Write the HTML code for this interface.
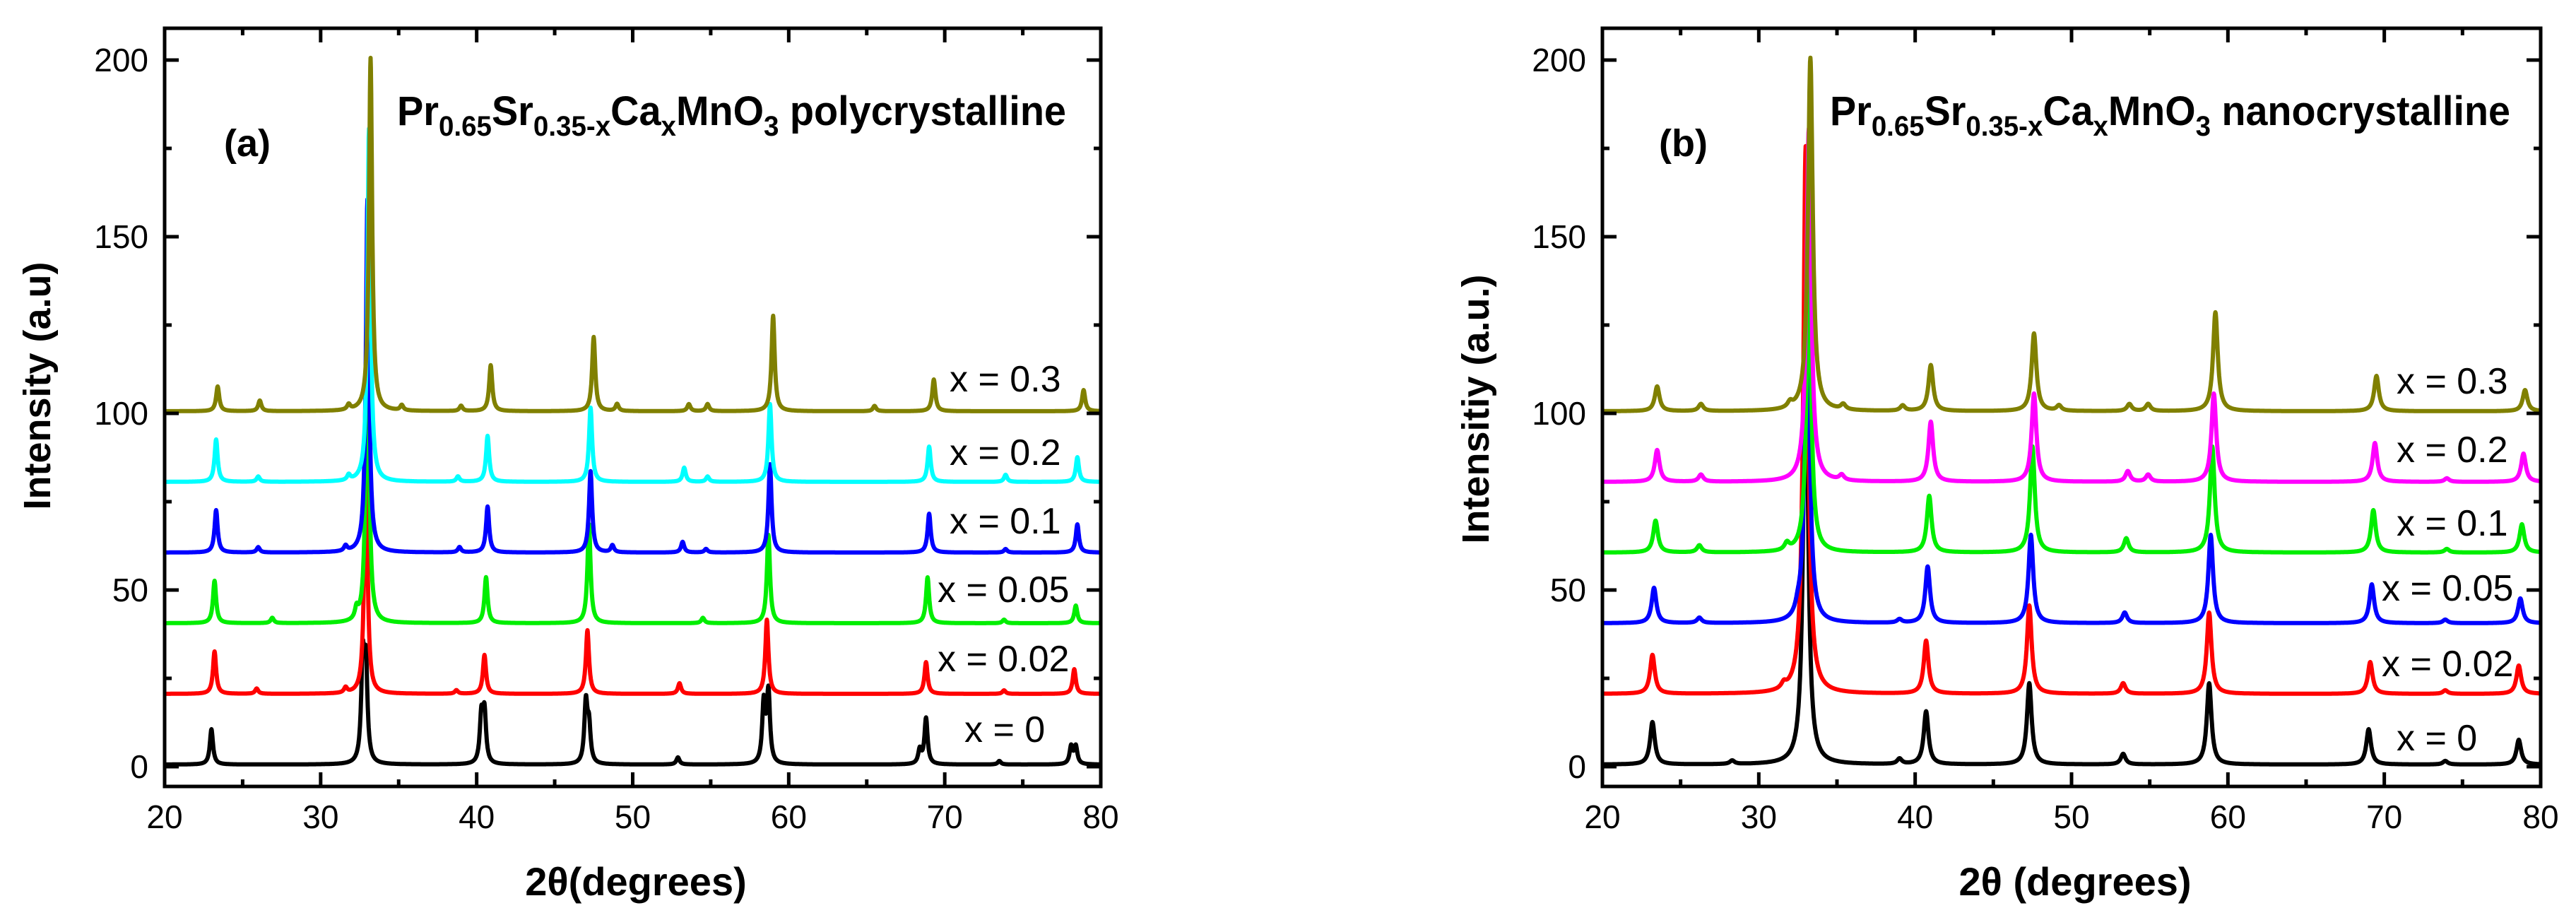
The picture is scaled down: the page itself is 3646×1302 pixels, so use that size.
<!DOCTYPE html>
<html><head><meta charset="utf-8"><style>
html,body{margin:0;padding:0;background:#fff;}
svg{display:block;font-family:"Liberation Sans",sans-serif;}
</style></head><body>
<svg id="fig" width="3646" height="1302" viewBox="0 0 3646 1302" xmlns="http://www.w3.org/2000/svg"></svg>
<script>
// ---- data (peak positions in 2θ, heights in a.u.) ----
const xTicks = [20,30,40,50,60,70,80];
const yTicks = [0,50,100,150,200];
const offsets = [0,20,40,60,80,100];
const labelsA = ["x = 0","x = 0.02","x = 0.05","x = 0.1","x = 0.2","x = 0.3"];
const colorsA = ["#000000","#ff0000","#00ee00","#0000ff","#00ffff","#808000"];
const colorsB = ["#000000","#ff0000","#0000ff","#00ee00","#ff00ff","#808000"];
const labelsB = ["x = 0","x = 0.02","x = 0.05","x = 0.1","x = 0.2","x = 0.3"];

const posA0=[23.0,32.7,32.9,40.3,40.5,47.0,47.2,52.9,58.4,58.7,68.4,68.8,73.5,78.1,78.4];
const hA0 =[10,28,26,13,14,17,10,2,17,20,4,13,1,5,5];
const posA1=[23.2,25.9,31.6,32.9,38.7,40.5,47.1,53.0,58.6,68.8,73.8,78.3];
const hA1 =[12,1.5,1.5,70,1,11,18,3,21,9,1,7];
const posA2=[23.2,26.9,32.3,33.0,40.6,47.2,54.5,58.7,68.9,73.8,78.4];
const hA2 =[12,1.5,3,95,13,28,1.5,25,13,1,5];
const posA3=[23.3,26.0,31.6,33.0,38.9,40.7,47.3,48.7,53.2,54.7,58.8,69.0,73.9,78.5];
const hA3 =[12,1.5,1.5,100,1.5,13,23,2,3,1,25,11,1,8];
const posA4=[23.3,26.0,31.8,33.1,38.8,40.7,47.3,53.3,54.8,58.8,69.0,73.9,78.5];
const hA4 =[12,1.5,1.5,100,1.5,13,21,4,1.5,22,10,2,7];
const posA5=[23.4,26.1,31.8,33.2,35.2,39.0,40.9,47.5,49.0,53.6,54.8,59.0,65.5,69.3,78.9];
const hA5 =[7,3,1.5,100,1.5,1.5,13,21,2,2,2,27,1.5,9,6];

const posB0=[23.2,28.3,33.0,39.0,40.7,47.3,53.3,58.8,69.0,73.9,78.6];
const hB0 =[12,1,125,1.5,15,23,3,23,10,1,7];
const posB1=[23.2,31.6,33.0,40.7,47.3,53.3,58.8,69.1,73.9,78.6];
const hB1 =[11,1.5,155,15,25,3,23,9,1,8];
const posB2=[23.3,26.2,32.5,33.1,39.0,40.8,47.4,53.4,58.9,69.2,73.9,78.7];
const hB2 =[10,1.5,2,95,1,16,25,3,25,11,1,7];
const posB3=[23.4,26.2,31.8,33.2,40.9,47.5,53.5,59.0,69.3,74.0,78.8];
const hB3 =[9,2,2,80,16,30,4,30,12,1,8];
const posB4=[23.5,26.3,33.2,35.3,41.0,47.6,53.6,54.9,59.1,69.4,74.0,78.9];
const hB4 =[9,2,100,1.5,17,25,3,2,25,11,1,8];
const posB5=[23.5,26.3,32.0,33.3,35.4,39.2,41.0,47.6,49.2,53.7,54.9,59.2,69.5,79.0];
const hB5 =[7,2,1.5,100,1.5,1.5,13,22,1.5,2,2,28,10,6];

const panels = [
 {id:"a", L:233, R:1558, pos:[posA0,posA1,posA2,posA3,posA4,posA5], h:[hA0,hA1,hA2,hA3,hA4,hA5], colors:colorsA, labels:labelsA, w:0.12,
  lab:[[1365,1050],[1327,950],[1327,852],[1344,755],[1344,658],[1344,554]],
  panelText:"(a)", px:317, title:"polycrystalline", tx:562, tEnd:1509, ytitle:"Intensity (a.u)", ytx:52, yty:546, xtitle:"2θ(degrees)", xtx:900},
 {id:"b", L:2268, R:3596, pos:[posB0,posB1,posB2,posB3,posB4,posB5], h:[hB0,hB1,hB2,hB3,hB4,hB5], colors:colorsB, labels:labelsB, w:0.18,
  lab:[[3392,1062],[3371,957],[3371,850],[3392,758],[3392,654],[3392,557]],
  panelText:"(b)", px:2348, title:"nanocrystalline", tx:2590, tEnd:3553, ytitle:"Intensitiy (a.u.)", ytx:2088, yty:579, xtitle:"2θ (degrees)", xtx:2937}
];
const TOP=40, BOT=1113, Y0=1085, PXU=5;
const NS="http://www.w3.org/2000/svg";
const svg=document.getElementById('fig');
function mk(tag,attrs,parent){const e=document.createElementNS(NS,tag);for(const k in attrs)e.setAttribute(k,attrs[k]);(parent||svg).appendChild(e);return e;}

panels.forEach(p=>{
  const g=mk('g',{});
  
  
  const xs=v=>p.L+(v-20)/60*(p.R-p.L);
  const ys=v=>Y0-v*PXU;
  for(let s=0;s<6;s++){
    let d='';
    for(let i=0;i<=3000;i++){
      const x=20+i*0.02;
      let y=offsets[s]+0.6;
      const P=p.pos[s],H=p.h[s];
      for(let k=0;k<P.length;k++){const t=(x-P[k])/p.w;y+=H[k]/(1+t*t);}
      d+=(i?'L':'M')+xs(x).toFixed(1)+' '+ys(y).toFixed(1);
    }
    const path=mk('path',{d:d,fill:'none',stroke:p.colors[s],'stroke-width':6,'stroke-linejoin':'round'},g);
    
    
    const t=mk('text',{x:p.lab[s][0],y:p.lab[s][1],'font-size':52,fill:'#000'},g);
    t.textContent=p.labels[s];
    
    
  }
  const fr=mk('rect',{x:p.L,y:TOP,width:p.R-p.L,height:BOT-TOP,fill:'none',stroke:'#000','stroke-width':5},g);
  
  
  for(let v=20;v<=80;v+=5){
    const maj=v%10===0, len=maj?20:10, X=xs(v);
    mk('line',{x1:X,x2:X,y1:BOT,y2:BOT-len,stroke:'#000','stroke-width':5},g);
    mk('line',{x1:X,x2:X,y1:TOP,y2:TOP+len,stroke:'#000','stroke-width':5},g);
  }
  xTicks.forEach(v=>{
    const t=mk('text',{x:xs(v),y:1172,'font-size':46,'text-anchor':'middle'},g);
    t.textContent=v;
    
    
  });
  for(let v=0;v<=200;v+=25){
    const maj=v%50===0, len=maj?20:10, Y=ys(v);
    mk('line',{x1:p.L,x2:p.L+len,y1:Y,y2:Y,stroke:'#000','stroke-width':5},g);
    mk('line',{x1:p.R,x2:p.R-len,y1:Y,y2:Y,stroke:'#000','stroke-width':5},g);
  }
  yTicks.forEach(v=>{
    const t=mk('text',{x:p.L-23,y:ys(v)+16,'font-size':46,'text-anchor':'end'},g);
    t.textContent=v;
    
    
  });
  const pt=mk('text',{x:p.px,y:221,'font-size':54,'font-weight':'bold'},g);
  pt.textContent=p.panelText;
  
  
  const tt=mk('text',{x:p.tx,y:177,'font-size':58,'font-weight':'bold',textLength:p.tEnd-p.tx,lengthAdjust:'spacingAndGlyphs'},g);
  tt.innerHTML='Pr<tspan font-size="40" dy="15">0.65</tspan><tspan dy="-15">Sr</tspan><tspan font-size="40" dy="15">0.35-x</tspan><tspan dy="-15">Ca</tspan><tspan font-size="40" dy="15">x</tspan><tspan dy="-15">MnO</tspan><tspan font-size="40" dy="15">3</tspan><tspan dy="-15"> '+p.title+'</tspan>';
  
  
  const yt=mk('text',{x:0,y:0,'font-size':54,'font-weight':'bold','text-anchor':'middle',transform:'translate('+(p.ytx+19)+','+p.yty+') rotate(-90)'},g);
  yt.textContent=p.ytitle;
  
  
  const xt=mk('text',{x:p.xtx,y:1267,'font-size':56,'font-weight':'bold','text-anchor':'middle'},g);
  xt.textContent=p.xtitle;
  
  
});
</script>
</body></html>
